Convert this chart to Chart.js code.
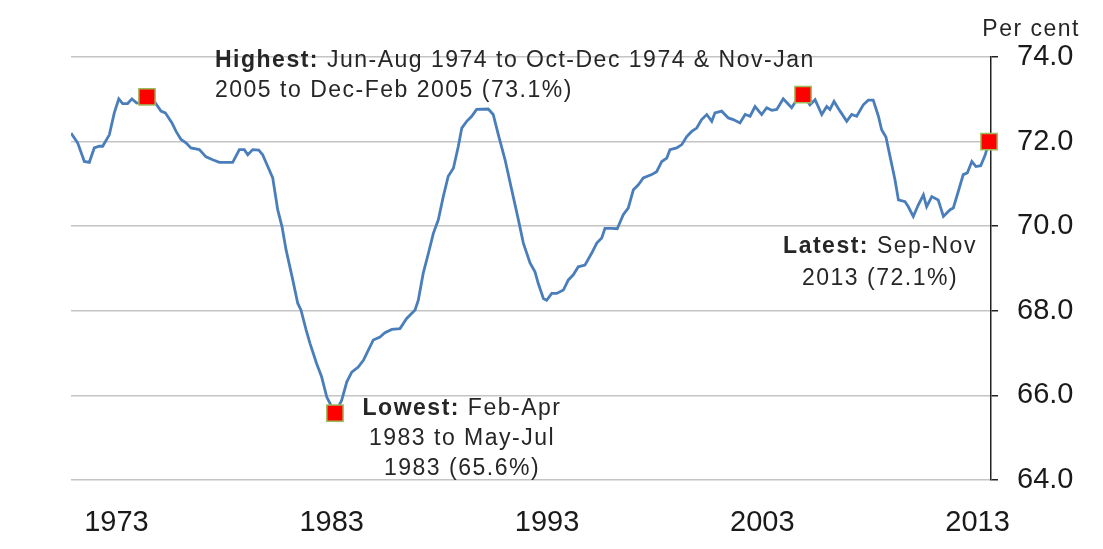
<!DOCTYPE html>
<html>
<head>
  <meta charset="utf-8">
  <title>Employment rate</title>
  <script src="https://cdn.jsdelivr.net/npm/chart.js@4.4.0/dist/chart.umd.min.js"></script>
  <style>
    html, body { margin: 0; padding: 0; background: #fff; }
    canvas { display: block; }
  </style>
</head>
<body>
<canvas id="canvas" width="1103" height="549"></canvas>
<script>
// rolling 3-month employment rate
var years = [
  1971.17, 1971.48, 1971.79, 1972.02, 1972.25, 1972.48, 1972.64, 1972.95, 1973.18, 1973.39,
  1973.57, 1973.80, 1974.00, 1974.22, 1974.48, 1974.70, 1975.04, 1975.35, 1975.55, 1975.86,
  1976.05, 1976.28, 1976.51, 1976.74, 1977.13, 1977.44, 1977.75, 1978.06, 1978.68, 1978.99,
  1979.22, 1979.38, 1979.61, 1979.89, 1980.07, 1980.31, 1980.54, 1980.77, 1980.97, 1981.16,
  1981.47, 1981.70, 1981.85, 1982.09, 1982.27, 1982.58, 1982.81, 1983.05, 1983.43, 1983.74,
  1983.98, 1984.21, 1984.51, 1984.75, 1984.98, 1985.21, 1985.52, 1985.75, 1986.07, 1986.45,
  1986.76, 1987.15, 1987.30, 1987.53, 1987.77, 1988.00, 1988.23, 1988.46, 1988.69, 1988.93,
  1989.16, 1989.32, 1989.55, 1989.78, 1990.01, 1990.55, 1990.78, 1991.02, 1991.33, 1991.64,
  1991.95, 1992.18, 1992.49, 1992.72, 1992.87, 1993.11, 1993.26, 1993.50, 1993.73, 1994.04,
  1994.27, 1994.50, 1994.73, 1995.04, 1995.35, 1995.59, 1995.82, 1995.97, 1996.28, 1996.54,
  1996.82, 1997.05, 1997.29, 1997.52, 1997.75, 1998.14, 1998.37, 1998.61, 1998.84, 1998.99,
  1999.30, 1999.54, 1999.77, 2000.00, 2000.23, 2000.46, 2000.70, 2000.93, 2001.08, 2001.39,
  2001.70, 2001.93, 2002.24, 2002.48, 2002.71, 2002.94, 2003.25, 2003.48, 2003.72, 2003.95,
  2004.25, 2004.64, 2004.88, 2005.17, 2005.49, 2005.73, 2006.04, 2006.27, 2006.42, 2006.61,
  2006.89, 2007.20, 2007.43, 2007.66, 2007.97, 2008.20, 2008.43, 2008.67, 2008.82, 2009.02,
  2009.21, 2009.44, 2009.60, 2009.91, 2010.06, 2010.29, 2010.52, 2010.76, 2010.91, 2011.15,
  2011.45, 2011.69, 2012.00, 2012.15, 2012.38, 2012.61, 2012.80, 2013.01, 2013.20, 2013.42,
  2013.62, 2013.81
];
var rate = [
  72.20, 71.97, 71.53, 71.51, 71.85, 71.89, 71.89, 72.16, 72.68, 73.01,
  72.90, 72.90, 73.01, 72.91, 72.93, 73.06, 72.95, 72.72, 72.68, 72.44,
  72.24, 72.05, 71.97, 71.85, 71.81, 71.64, 71.57, 71.51, 71.51, 71.81,
  71.81, 71.69, 71.81, 71.80, 71.69, 71.41, 71.14, 70.39, 69.99, 69.44,
  68.73, 68.18, 68.02, 67.55, 67.23, 66.75, 66.44, 65.96, 65.58, 65.88,
  66.32, 66.55, 66.67, 66.83, 67.07, 67.31, 67.38, 67.48, 67.56, 67.58,
  67.82, 68.02, 68.25, 68.89, 69.36, 69.83, 70.15, 70.70, 71.18, 71.37,
  71.89, 72.32, 72.48, 72.60, 72.76, 72.77, 72.64, 72.16, 71.57, 70.86,
  70.15, 69.60, 69.13, 68.92, 68.65, 68.29, 68.25, 68.41, 68.41, 68.49,
  68.73, 68.85, 69.04, 69.08, 69.36, 69.60, 69.72, 69.95, 69.95, 69.94,
  70.27, 70.43, 70.86, 70.98, 71.14, 71.22, 71.29, 71.53, 71.61, 71.81,
  71.85, 71.93, 72.12, 72.24, 72.32, 72.52, 72.64, 72.48, 72.68, 72.72,
  72.56, 72.52, 72.44, 72.64, 72.60, 72.83, 72.64, 72.80, 72.74, 72.76,
  73.01, 72.80, 72.99, 73.11, 72.87, 72.99, 72.64, 72.83, 72.76, 72.95,
  72.72, 72.48, 72.64, 72.60, 72.87, 72.98, 72.98, 72.60, 72.28, 72.11,
  71.65, 71.10, 70.62, 70.58, 70.46, 70.23, 70.50, 70.74, 70.46, 70.70,
  70.62, 70.23, 70.39, 70.43, 70.82, 71.22, 71.26, 71.53, 71.41, 71.43,
  71.67, 72.00
];

// highest (x2), lowest, latest
var markerYears = [1974.70, 1983.43, 2005.17, 2013.81];
var markerRates = [73.06, 65.58, 73.11, 72.00];

var xTickYears = [1973, 1983, 1993, 2003, 2013];
var yTicks = [64, 66, 68, 70, 72, 74];

var FONT = "'Liberation Sans', Arial, sans-serif";

function toPoints(xs, ys) {
    return xs.map(function(x, i) { return { x: x, y: ys[i] }; });
}

// annotation texts, bold lead + rest
function drawRich(ctx, parts, x, y, align) {
    ctx.font = 'bold 23px ' + FONT;
    var wb = parts[0] ? ctx.measureText(parts[0]).width : 0;
    ctx.font = '23px ' + FONT;
    var wr = ctx.measureText(parts[1]).width;
    var start = x;
    if (align === 'center') start = x - (wb + wr) / 2;
    if (parts[0]) {
        ctx.font = 'bold 23px ' + FONT;
        ctx.fillText(parts[0], start, y);
    }
    ctx.font = '23px ' + FONT;
    ctx.fillText(parts[1], start + wb, y);
}

var notes = {
    id: 'notes',
    afterDraw: function(chart) {
        var ctx = chart.ctx;
        ctx.save();
        ctx.fillStyle = '#262626';
        ctx.textBaseline = 'alphabetic';
        ctx.textAlign = 'left';
        ctx.letterSpacing = '1.5px';

        drawRich(ctx, ['Highest: ', 'Jun-Aug 1974 to Oct-Dec 1974 & Nov-Jan'], 215, 67, 'left');
        drawRich(ctx, ['', '2005 to Dec-Feb 2005 (73.1%)'], 215, 97, 'left');

        drawRich(ctx, ['Lowest: ', 'Feb-Apr'], 462, 415, 'center');
        drawRich(ctx, ['', '1983 to May-Jul'], 462, 445, 'center');
        drawRich(ctx, ['', '1983 (65.6%)'], 462, 475, 'center');

        drawRich(ctx, ['Latest: ', 'Sep-Nov'], 880, 253, 'center');
        drawRich(ctx, ['', '2013 (72.1%)'], 880, 285, 'center');

        ctx.font = '23px ' + FONT;
        ctx.textAlign = 'right';
        ctx.fillText('Per cent', 1080, 36);
        ctx.restore();
    }
};

var config = {
    type: 'line',
    data: {
        datasets: [{
            label: 'Markers',
            data: toPoints(markerYears, markerRates),
            order: 0,
            clip: false,
            showLine: false,
            pointStyle: 'rect',
            pointRadius: 11.5,
            pointBackgroundColor: '#ff0000',
            pointBorderColor: '#9bbb59',
            pointBorderWidth: 1.5
        }, {
            label: 'Employment rate',
            data: toPoints(years, rate),
            order: 1,
            borderColor: '#4a7ebb',
            borderWidth: 2.8,
            pointRadius: 0,
            tension: 0,
            fill: false
        }]
    },
    options: {
        responsive: false,
        animation: false,
        layout: { padding: { left: 71, top: 57, right: 0, bottom: 0 } },
        plugins: {
            legend: { display: false },
            title: { display: false },
            tooltip: { enabled: false }
        },
        scales: {
            x: {
                type: 'linear',
                min: 1971.17,
                max: 2013.9,
                grid: { display: false },
                border: { display: false },
                afterBuildTicks: function(scale) {
                    scale.ticks = xTickYears.map(function(v) { return { value: v }; });
                },
                afterFit: function(scale) { scale.height = 69; },
                ticks: {
                    autoSkip: false,
                    maxRotation: 0,
                    padding: 18,
                    labelOffset: 6,
                    color: '#1a1a1a',
                    font: { family: FONT, size: 29 },
                    callback: function(v) { return String(v); }
                }
            },
            y: {
                position: 'right',
                min: 64,
                max: 74,
                afterBuildTicks: function(scale) {
                    scale.ticks = yTicks.map(function(v) { return { value: v }; });
                },
                afterFit: function(scale) { scale.width = 112; },
                grid: {
                    color: '#c4c4c4',
                    lineWidth: 1.5,
                    drawTicks: true,
                    tickLength: 7,
                    tickColor: '#222'
                },
                border: { display: true, color: '#222', width: 1.5 },
                ticks: {
                    padding: 19,
                    color: '#1a1a1a',
                    font: { family: FONT, size: 29 },
                    callback: function(v) { return v.toFixed(1); }
                }
            }
        }
    },
    plugins: [notes]
};

window.myLine = new Chart(document.getElementById('canvas'), config);
</script>
</body>
</html>
